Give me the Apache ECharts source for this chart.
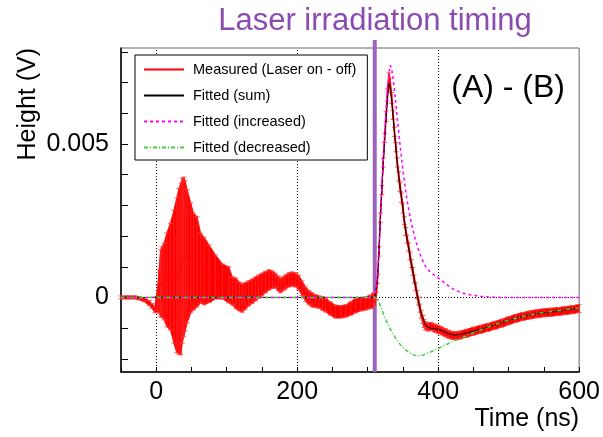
<!DOCTYPE html>
<html><head><meta charset="utf-8">
<script src="https://cdn.jsdelivr.net/npm/echarts@6/dist/echarts.min.js"></script>
<style>html,body{margin:0;padding:0;background:#fff}#c{width:603px;height:437px}</style>
</head><body><div id="c"></div>
<script>
// ---- axis ranges / ticks ----
const xMin = -50, xMax = 600;
const yMin = -0.00243, yMax = 0.00813;
const xTickValues = [-50,0,50,100,150,200,250,300,350,400,450,500,550,600];
const xLabelValues = [0,200,400,600];
const yTickValues = [-0.002,-0.001,0,0.001,0.002,0.003,0.004,0.005,0.006,0.007,0.008];
const yLabelValues = [0,0.005];
const xGridValues = [0,200,400];
const yGridValues = [0,0.005];
const laserTime = 310;

// ---- measured (Laser on - off) ----
const measTime = [-50,-40,-30,-24,-17,-10,-6,-2,0,2,4,6,8,11,15,20,25,29,32,35,37,39,41,44,49,53,58,63,68,75,84,94,103,108,113,118,122,126,131,136,141,145,150,155,160,165,169,173,176,180,183,188,193,198,202,207,212,217,221,226,231,236,240,247,254,262,269,276,283,290,297,303,308,310,
312,314,316,318,320,322,324,326,328,330,332,334,336,338,340,342,344,346,348,350,
352,354,356,358,360,362,364,366,368,370,372,374,376,378,380,382,384,386,
390,395,400,405,410,415,420,425,430,
440,450,460,470,480,490,500,510,520,530,540,550,560,570,580,590,600];
const measValue = [0,0,0,-0.00003,-0.00008,-0.00018,-0.00028,-0.0004,
-0.00019,-0.00005,0.0002,0.00046,0.0005,
0.00052,0.00057,0.00068,0.00068,0.00072,
0.00085,0.00093,0.0012,0.00132,0.00135,
0.00134,0.00129,0.00117,0.00116,0.00096,
0.00086,0.00077,0.00067,0.00052,0.00041,
0.00021,0.00013,0.00003,-0.00002,0.00004,
0.00013,0.0002,0.00028,0.00035,0.00042,
0.0005,0.00057,0.00058,0.00055,0.00046,
0.00039,0.00044,0.0005,0.00057,0.0006,
0.00057,0.00049,0.0003,0.0001,-0.00001,
-0.00008,-0.00012,-0.00015,-0.0002,-0.00024,
-0.00036,-0.00046,-0.00047,-0.00044,-0.00036,
-0.00026,-0.00022,-0.0002,-0.00015,-0.0001,
-0.00005,
0.00005,0.0006,0.0015,0.0026,0.0035,0.0044,0.0052,0.0059,0.0066,0.0071,0.00695,0.0065,0.00595,0.0054,0.0049,0.0044,0.00395,0.0036,0.00325,0.0029,
0.0025,0.00215,0.0019,0.00165,0.00135,0.0011,0.00085,0.0006,0.00035,0.0001,-0.00012,-0.00035,-0.00055,-0.00072,-0.00085,-0.00092,-0.00095,-0.00096,
-0.00095,-0.001,-0.00104,-0.00109,-0.00115,-0.0012,-0.00124,-0.00125,-0.00123,
-0.00117,-0.0011,-0.00104,-0.00098,-0.00091,-0.00084,-0.00076,-0.00068,-0.00062,-0.00057,-0.00053,-0.0005,-0.00048,-0.00046,-0.00043,-0.0004,-0.00036];
const measError = [0.00005,0.00005,0.00005,0.00005,0.00006,0.00008,0.00008,0.0001,
0.00022,0.00045,0.0007,0.00109,0.00115,
0.00125,0.00153,0.00174,0.00217,0.00252,
0.0027,0.0028,0.00269,0.0026,0.00245,
0.00217,0.00179,0.00158,0.00147,0.00114,
0.0011,0.00094,0.00072,0.00057,0.00059,
0.00046,0.0005,0.00047,0.00046,0.00044,
0.00041,0.0004,0.00039,0.00038,0.00037,
0.00035,0.00033,0.00028,0.00024,0.00024,
0.00024,0.00023,0.00023,0.00023,0.00023,
0.00023,0.00024,0.00024,0.00024,0.00023,
0.00023,0.00021,0.0002,0.00022,0.00023,
0.00022,0.00021,0.0002,0.0002,0.00022,
0.00024,0.00022,0.00021,0.00022,0.00024,
0.0002,
0.00012,0.00015,0.00015,0.00015,0.00015,0.00015,0.00015,0.00017,0.0002,0.00022,0.0002,0.00018,0.00015,0.00015,0.00015,0.00015,0.00015,0.00015,0.00015,0.00015,
0.00013,0.00013,0.00013,0.00013,0.00013,0.00013,0.00013,0.00013,0.00013,0.00013,0.00013,0.00013,0.00013,0.00013,0.00013,0.00013,0.00013,0.00013,
0.00013,0.00013,0.00013,0.00013,0.00013,0.00013,0.00013,0.00013,0.00013,
0.00013,0.00013,0.00013,0.00013,0.00013,0.00013,0.00013,0.00013,0.00013,0.00013,0.00013,0.00013,0.00013,0.00013,0.00013,0.00013,0.00013];

// ---- fits ----
const fitTime = [-50,310,
312,314,316,318,320,322,324,326,328,330,332,334,336,338,340,342,344,346,348,350,
352,354,356,358,360,362,364,366,368,370,372,374,376,378,380,382,384,386,
390,395,400,405,410,415,420,425,430,
440,450,460,470,480,490,500,510,520,530,540,550,560,570,580,590,600];
const fitSum = [0,0,
0.00005,0.0006,0.0015,0.0026,0.0035,0.0043,0.0051,0.0058,0.0065,0.00698,0.00685,0.00645,0.0059,0.00535,0.00485,0.0044,0.00395,0.0036,0.00325,0.0029,
0.0025,0.00215,0.0019,0.00165,0.00135,0.0011,0.00085,0.0006,0.00035,0.0001,-0.0001,-0.00035,-0.00052,-0.00066,-0.00078,-0.00088,-0.00095,-0.00099,
-0.00101,-0.00102,-0.00104,-0.00108,-0.00113,-0.00118,-0.00121,-0.00122,-0.00121,
-0.00116,-0.0011,-0.00104,-0.00097,-0.0009,-0.00082,-0.00074,-0.00068,-0.00062,-0.00057,-0.00053,-0.0005,-0.00047,-0.00044,-0.00041,-0.00038,-0.00035];
const fitIncreased = [0,0,
0.00005,0.0007,0.00165,0.00265,0.0036,0.0045,0.00535,0.0061,0.0068,0.0073,0.00757,0.00745,0.00715,0.00675,0.0063,0.00585,0.0054,0.00495,0.00455,0.00415,
0.0038,0.00345,0.00315,0.0029,0.00265,0.00242,0.00222,0.00203,0.00186,0.0017,0.00156,0.00143,0.00131,0.0012,0.0011,0.00102,0.00095,0.00089,
0.0008,0.00072,0.00064,0.00055,0.00046,0.00037,0.00029,0.00023,0.00018,
0.00011,0.00007,0.00004,0.00002,0.00001,0,0,0,0,0,0,0,0,0,0,0,0];
const fitDecreased = [0,0,
0,-0.00005,-0.00015,-0.00028,-0.0004,-0.00052,-0.00063,-0.00074,-0.00084,-0.00094,-0.00103,-0.00111,-0.00119,-0.00127,-0.00134,-0.00141,-0.00147,-0.00153,-0.00158,-0.00163,
-0.00167,-0.00171,-0.00175,-0.00178,-0.00181,-0.00184,-0.00186,-0.00188,-0.00189,-0.0019,-0.0019,-0.0019,-0.00189,-0.00188,-0.00187,-0.00185,-0.00183,-0.00181,
-0.00177,-0.00172,-0.00166,-0.00161,-0.00155,-0.0015,-0.00144,-0.00139,-0.00135,
-0.00125,-0.00115,-0.00106,-0.00097,-0.00089,-0.00081,-0.00074,-0.00068,-0.00062,-0.00057,-0.00053,-0.00049,-0.00046,-0.00043,-0.0004,-0.00037,-0.00034];

const names = ['Measured (Laser on - off)','Fitted (sum)','Fitted (increased)','Fitted (decreased)'];
const FONT = 'Liberation Sans, Arial, Helvetica, sans-serif';

const pairs = (xs, ys) => xs.map((x, i) => [x, ys[i]]);

const chart = echarts.init(document.getElementById('c'), null, {renderer: 'canvas'});
chart.setOption({
  animation: false,
  backgroundColor: '#fff',
  textStyle: {fontFamily: FONT},
  title: [
    {text: 'Laser irradiation timing', left: 370, textAlign: 'center', top: 1,
     textStyle: {color: '#8a4cb0', fontSize: 31, fontWeight: 'normal', fontFamily: FONT}},
    {text: '(A) - (B)', right: 33, top: 67,
     textStyle: {color: '#000', fontSize: 32, fontWeight: 'normal', fontFamily: FONT}}
  ],
  legend: {
    data: names, orient: 'vertical', left: 135, top: 55,
    padding: [7, 11, 5, 8], itemWidth: 40, itemHeight: 14, itemGap: 11,
    borderColor: '#000', borderWidth: 1, backgroundColor: '#fff',
    itemStyle: {opacity: 0},
    textStyle: {fontSize: 14.5, color: '#000', fontFamily: FONT, padding: [0, 0, 0, 4]},
    selectedMode: false
  },
  grid: {left: 121, right: 23, top: 48, bottom: 65, show: true, borderColor: '#666', borderWidth: 1, backgroundColor: 'transparent'},
  xAxis: {
    type: 'value', min: xMin, max: xMax,
    name: 'Time (ns)', nameLocation: 'end', nameGap: 0,
    nameTextStyle: {fontSize: 25, color: '#000', align: 'right', verticalAlign: 'top', padding: [35, 0, 0, 0], fontFamily: FONT},
    axisLine: {show: true, onZero: false, lineStyle: {color: '#000', width: 1.5}},
    axisTick: {show: true, inside: true, length: 5, customValues: xTickValues, lineStyle: {color: '#000'}},
    axisLabel: {customValues: xLabelValues, fontSize: 25, color: '#000', margin: 8, fontFamily: FONT},
    splitLine: {show: false}
  },
  yAxis: {
    type: 'value', min: yMin, max: yMax,
    name: 'Height (V)', nameLocation: 'end', nameGap: 0, nameRotate: 90,
    nameTextStyle: {fontSize: 25, color: '#000', align: 'right', verticalAlign: 'bottom', padding: [0, 0, 80, 0], fontFamily: FONT},
    axisLine: {show: true, onZero: false, lineStyle: {color: '#000', width: 1.5}},
    axisTick: {show: true, inside: true, length: 7, customValues: yTickValues, lineStyle: {color: '#000'}},
    axisLabel: {customValues: yLabelValues, fontSize: 25, color: '#000', margin: 12, fontFamily: FONT,
      formatter: v => (v === 0 ? '0' : String(v))},
    splitLine: {show: false}
  },
  series: [
    {
      type: 'custom', name: 'laser', z: 1, silent: true,
      data: [[laserTime]],
      renderItem: function (params, api) {
        const x = api.value(0);
        const p0 = api.coord([x, yMin]);
        const p1 = api.coord([x, yMax]);
        return {type: 'line', shape: {x1: p0[0], y1: p0[1], x2: p1[0], y2: p1[1] - 8},
                style: {stroke: '#9b63bb', lineWidth: 4}};
      },
      markLine: {
        silent: true, symbol: 'none', z: 1, animation: false,
        label: {show: false},
        lineStyle: {type: [1, 2], color: '#000', width: 1},
        data: xGridValues.map(v => ({xAxis: v})).concat(yGridValues.map(v => ({yAxis: v})))
      }
    },
    {
      type: 'custom', name: 'errors', z: 2, silent: true,
      encode: {x: 0, y: 1},
      data: measTime.map((t, i) => [t, measValue[i], measError[i]]),
      renderItem: function (params, api) {
        const i = params.dataIndex;
        const t = api.value(0), v = api.value(1), e = api.value(2);
        const top = api.coord([t, v + e]);
        const bot = api.coord([t, v - e]);
        const children = [];
        if (i < measTime.length - 1) {
          const t2 = measTime[i + 1], v2 = measValue[i + 1], e2 = measError[i + 1];
          const top2 = api.coord([t2, v2 + e2]);
          const bot2 = api.coord([t2, v2 - e2]);
          children.push({type: 'polygon', shape: {points: [top, top2, bot2, bot]},
                         style: {fill: '#ff0000', stroke: '#ff0000', lineWidth: 0.8}});
        }
        children.push({type: 'line', shape: {x1: top[0], y1: top[1], x2: bot[0], y2: bot[1]}, style: {stroke: '#ff2020', lineWidth: 1}});
        children.push({type: 'line', shape: {x1: top[0] - 2.5, y1: top[1], x2: top[0] + 2.5, y2: top[1]}, style: {stroke: 'rgba(255,70,70,0.85)', lineWidth: 1}});
        children.push({type: 'line', shape: {x1: bot[0] - 2.5, y1: bot[1], x2: bot[0] + 2.5, y2: bot[1]}, style: {stroke: 'rgba(255,70,70,0.85)', lineWidth: 1}});
        return {type: 'group', children: children};
      }
    },
    {
      type: 'line', name: names[0], z: 3, symbol: 'none', showSymbol: false,
      data: pairs(measTime, measValue),
      lineStyle: {color: '#ff0000', width: 1}, itemStyle: {color: '#ff0000'}
    },
    {
      type: 'line', name: names[1], z: 4, symbol: 'none', showSymbol: false,
      data: pairs(fitTime, fitSum),
      lineStyle: {color: '#000', width: 1}, itemStyle: {color: '#000'}
    },
    {
      type: 'line', name: names[2], z: 5, symbol: 'none', showSymbol: false,
      data: pairs(fitTime, fitIncreased),
      lineStyle: {color: '#ff00ff', width: 1.5, type: [3, 3]}, itemStyle: {color: '#ff00ff'}
    },
    {
      type: 'line', name: names[3], z: 5, symbol: 'none', showSymbol: false,
      data: pairs(fitTime, fitDecreased),
      lineStyle: {color: '#44cc44', width: 1.5, type: [4, 2, 1, 2]}, itemStyle: {color: '#44cc44'}
    }
  ]
});
</script>
</body></html>
